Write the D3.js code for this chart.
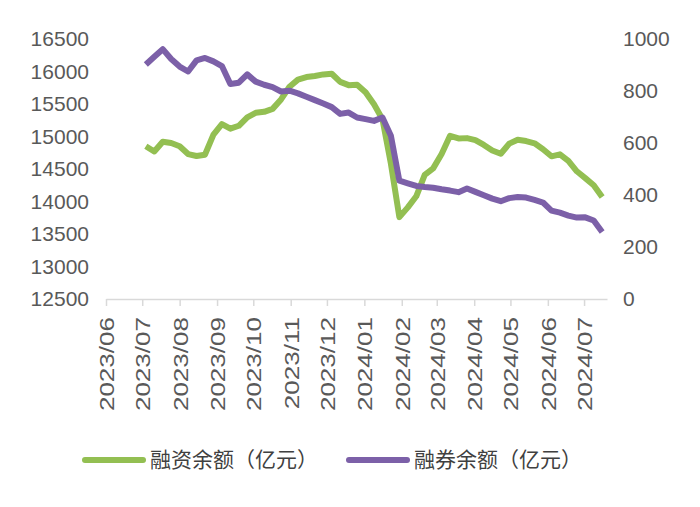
<!DOCTYPE html>
<html>
<head>
<meta charset="utf-8">
<script src="https://cdn.jsdelivr.net/npm/d3@7"></script>
<style>
  body { margin: 0; background: #fff; }
</style>
</head>
<body>
<div id="chart"></div>
<script>
// weekly observation dates
var dates = [
  "2023-07-04", "2023-07-11", "2023-07-18", "2023-07-25",
  "2023-08-01", "2023-08-08", "2023-08-15", "2023-08-22", "2023-08-29",
  "2023-09-05", "2023-09-12", "2023-09-19", "2023-09-26",
  "2023-10-03", "2023-10-10", "2023-10-17", "2023-10-24", "2023-10-31",
  "2023-11-07", "2023-11-14", "2023-11-21", "2023-11-28",
  "2023-12-05", "2023-12-12", "2023-12-19", "2023-12-26",
  "2024-01-02", "2024-01-09", "2024-01-16", "2024-01-23", "2024-01-30",
  "2024-02-06", "2024-02-13", "2024-02-20", "2024-02-27",
  "2024-03-05", "2024-03-12", "2024-03-19", "2024-03-26",
  "2024-04-02", "2024-04-09", "2024-04-16", "2024-04-23", "2024-04-30",
  "2024-05-07", "2024-05-14", "2024-05-21", "2024-05-28",
  "2024-06-04", "2024-06-11", "2024-06-18", "2024-06-25",
  "2024-07-02", "2024-07-09", "2024-07-16"
];

// 融资余额 (left axis)
var financing = [
  14850, 14770, 14920, 14900, 14850, 14730, 14700, 14720, 15030,
  15190, 15120, 15165, 15295, 15365, 15380, 15425, 15570, 15765,
  15875, 15915, 15930, 15955, 15965, 15840, 15790, 15795, 15680,
  15495, 15265, 14580, 13760, 13910, 14080, 14410, 14510, 14730,
  15010, 14970, 14975, 14945, 14870, 14785, 14735, 14890, 14950,
  14930, 14895, 14805, 14695, 14725, 14625, 14465, 14360, 14250, 14070
];

// 融券余额 (right axis)
var lending = [
  902, 932, 961, 923, 894, 875, 918, 927, 914,
  896, 827, 832, 864, 836, 824, 815, 798, 801,
  791, 778, 765, 752, 738, 712, 717, 698, 692,
  685, 698, 628, 455, 445, 435, 431, 428, 422,
  417, 411, 425, 412, 399, 386, 376, 388, 392,
  390, 381, 371, 340, 332, 321, 313, 314, 302, 258
];

var leftTicks = [12500, 13000, 13500, 14000, 14500, 15000, 15500, 16000, 16500];
var rightTicks = [0, 200, 400, 600, 800, 1000];
var seriesNames = ["融资余额（亿元）", "融券余额（亿元）"];

var svgWidth = 700;
var svgHeight = 507;

var margin = { top: 39, right: 93, bottom: 208, left: 106 };
var width = svgWidth - margin.left - margin.right;
var height = svgHeight - margin.top - margin.bottom;

var green = "#93bf52";
var purple = "#7c60a8";
var labelColor = "#595959";

var parseDate = d3.timeParse("%Y-%m-%d");
var data = dates.map(function(d, i) {
  return { date: parseDate(d), fin: financing[i], lend: lending[i] };
});

var svg = d3.select("#chart")
  .append("svg")
  .attr("width", svgWidth)
  .attr("height", svgHeight);

var chartGroup = svg.append("g")
  .attr("transform", `translate(${margin.left}, ${margin.top})`);

// scales
var xScale = d3.scaleTime()
  .domain([parseDate("2023-06-01"), parseDate("2024-07-20")])
  .range([0, width]);

var yLeft = d3.scaleLinear()
  .domain([12500, 16500])
  .range([height, 0]);

var yRight = d3.scaleLinear()
  .domain([0, 1000])
  .range([height, 0]);

// axes
var months = d3.timeMonth.range(parseDate("2023-06-01"), parseDate("2024-07-02"));

var bottomAxis = d3.axisBottom(xScale)
  .tickValues(months)
  .tickFormat(d3.timeFormat("%Y/%m"))
  .tickSize(7)
  .tickSizeOuter(0);

var leftAxis = d3.axisLeft(yLeft)
  .tickValues(leftTicks)
  .tickFormat(d3.format("d"))
  .tickSize(0)
  .tickPadding(17);

var rightAxis = d3.axisRight(yRight)
  .tickValues(rightTicks)
  .tickFormat(d3.format("d"))
  .tickSize(0)
  .tickPadding(16);

var xAxisG = chartGroup.append("g")
  .attr("transform", `translate(0, ${height})`)
  .call(bottomAxis);

xAxisG.select(".domain").attr("stroke", "#d9d9d9").attr("stroke-width", 1.5);
xAxisG.selectAll(".tick line").attr("stroke", "#d9d9d9").attr("stroke-width", 1.5);
xAxisG.selectAll(".tick text")
  .attr("x", 0)
  .attr("y", 0)
  .attr("dy", "0.36em")
  .attr("transform", "rotate(-90) translate(-18, 0) scale(1.24, 1)")
  .style("text-anchor", "end")
  .attr("fill", labelColor)
  .attr("font-family", "'Liberation Sans', Arial, sans-serif")
  .attr("font-size", "21px");

var leftG = chartGroup.append("g").call(leftAxis);
leftG.select(".domain").remove();
leftG.selectAll("text")
  .attr("fill", labelColor)
  .attr("font-family", "'Liberation Sans', Arial, sans-serif")
  .attr("font-size", "21px");

var rightG = chartGroup.append("g")
  .attr("transform", `translate(${width}, 0)`)
  .call(rightAxis);
rightG.select(".domain").remove();
rightG.selectAll("text")
  .attr("fill", labelColor)
  .attr("font-family", "'Liberation Sans', Arial, sans-serif")
  .attr("font-size", "21px");

// lines
var finLine = d3.line()
  .x(d => xScale(d.date))
  .y(d => yLeft(d.fin));

var lendLine = d3.line()
  .x(d => xScale(d.date))
  .y(d => yRight(d.lend));

chartGroup.append("path")
  .datum(data)
  .attr("d", finLine)
  .attr("fill", "none")
  .attr("stroke", green)
  .attr("stroke-width", 6)
  .attr("stroke-linejoin", "round");

chartGroup.append("path")
  .datum(data)
  .attr("d", lendLine)
  .attr("fill", "none")
  .attr("stroke", purple)
  .attr("stroke-width", 6)
  .attr("stroke-linejoin", "round");

// legend
var legendItems = [
  { name: seriesNames[0], color: green, x: 85 },
  { name: seriesNames[1], color: purple, x: 349 }
];

var legend = svg.selectAll(".legend")
  .data(legendItems)
  .enter()
  .append("g")
  .attr("class", "legend")
  .attr("transform", d => `translate(${d.x}, 460)`);

legend.append("line")
  .attr("x1", 0)
  .attr("x2", 58)
  .attr("y1", 0)
  .attr("y2", 0)
  .attr("stroke", d => d.color)
  .attr("stroke-width", 6)
  .attr("stroke-linecap", "round");

legend.append("text")
  .attr("x", 65)
  .attr("y", 0)
  .attr("dy", "0.35em")
  .attr("fill", "#404040")
  .attr("font-family", "'Noto Sans CJK SC', sans-serif")
  .attr("font-size", "21px")
  .text(d => d.name);
</script>
</body>
</html>
